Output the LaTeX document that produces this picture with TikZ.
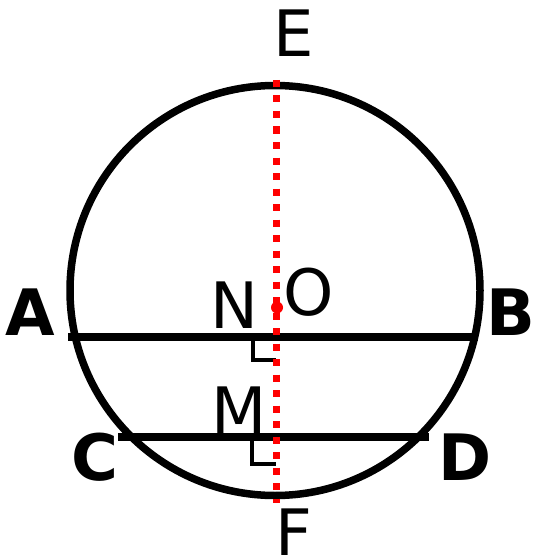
\documentclass[tikz,border=0pt]{standalone}
\usepackage{fontspec}
\setmainfont{DejaVu Sans}
\begin{document}
\begin{tikzpicture}[x=1pt,y=-1pt,
  lbl/.style={anchor=base,inner sep=0pt,font=\fontsize{64}{64}\selectfont},
  blbl/.style={lbl,font=\fontsize{64}{64}\selectfont\bfseries},
  thick line/.style={line width=7.5pt},
  rmark/.style={line width=3.5pt},
  axis/.style={red,line width=7pt,dash pattern=on 7pt off 8.5pt}]
\useasboundingbox (0,0) rectangle (533,559);
\coordinate (O) at (275,290.5);
\coordinate (A0) at (68,337);
\coordinate (B0) at (478,337);
\coordinate (C0) at (118,437);
\coordinate (D0) at (429,437);
\coordinate (E0) at (276,80);
\coordinate (F0) at (276,503);
\coordinate (N0) at (276,337);
\coordinate (M0) at (276,437);
\draw[thick line] (O) circle[radius=205];
\draw[thick line] (A0) -- (B0);
\draw[thick line] (C0) -- (D0);
\draw[rmark] (253,337) -- (253,360) -- (N0 |- 0,360);
\draw[rmark] (252,437) -- (252,464) -- (M0 |- 0,464);
\draw[axis] (E0) -- (F0);
\fill[red] (277,307.5) circle[radius=6];
\node[lbl] (E) at (293.5,57) {E};
\node[lbl] (F) at (293.5,555) {F};
\node[blbl] (A) at (30,335) {A};
\node[blbl] (B) at (511,335) {B};
\node[blbl] (C) at (95,480) {C};
\node[blbl] (D) at (465,480) {D};
\node[lbl] (N) at (234.5,328) {N};
\node[lbl] (Ol) at (309,315) {O};
\node[lbl] (M) at (239,433) {M};
\end{tikzpicture}
\end{document}
